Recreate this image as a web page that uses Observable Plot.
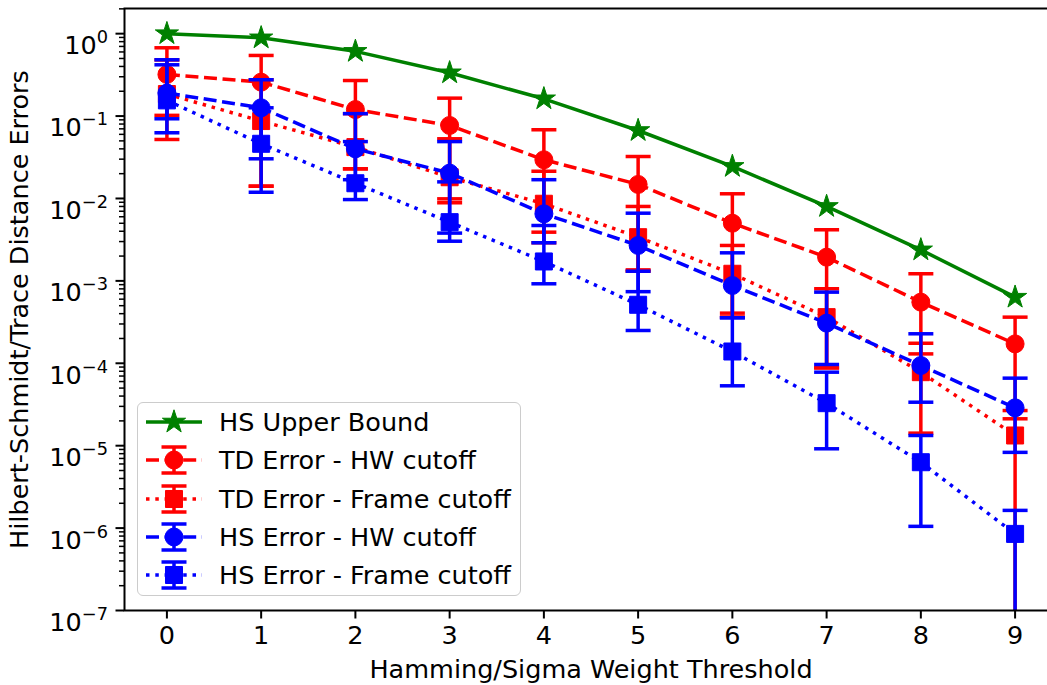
<!DOCTYPE html>
<html>
<head>
<meta charset="utf-8">
<script src="https://cdn.jsdelivr.net/npm/d3@7"></script>
<script src="https://cdn.jsdelivr.net/npm/@observablehq/plot@0.6"></script>
<style>
  body { margin: 0; background: #fff; font-family: "DejaVu Sans", sans-serif; }
  #wrap { position: relative; width: 1047px; height: 685px; overflow: hidden; }
  .legend { position: absolute; left: 137px; top: 402px; width: 384px; height: 194px;
            border: 1.5px solid #cccccc; border-radius: 6px; background: rgba(255,255,255,0.8);
            box-sizing: border-box; }
  .legend .row { position: absolute; left: 0; height: 36px; width: 380px; }
  .legend .row svg { position: absolute; left: 6px; top: 0; }
  .legend .row span { position: absolute; left: 81px; top: 0; line-height: 36px; font-size: 25.5px; color: #000; white-space: nowrap; }
</style>
</head>
<body>
<div id="wrap"></div>
<script>
// ---------------- data ----------------
const thresholds = [0, 1, 2, 3, 4, 5, 6, 7, 8, 9];

const hsUpperBound = [1.0, 0.89, 0.61, 0.335, 0.162, 0.0668, 0.0245, 0.0080, 0.00238, 0.000634];

const tdHwMean  = [0.32, 0.258, 0.12, 0.0769, 0.0295, 0.0148, 0.00501, 0.00194, 0.000552, 0.000172];
const tdHwUpper = [0.674, 0.544, 0.27, 0.165, 0.0682, 0.0323, 0.0114, 0.00417, 0.00122, 0.000363];
const tdHwLower = [0.052, 0.0141, 0.0229, 0.0099, 0.0039, 0.00136, 0.000406, 0.000088, 0.00013, 0.0000212];

const tdFrameMean  = [0.185, 0.087, 0.042, 0.0181, 0.00863, 0.00339, 0.00122, 0.000363, 0.000078, 0.0000133];
const tdFrameUpper = [0.48, 0.276, 0.107, 0.053, 0.0214, 0.008, 0.00269, 0.000802, 0.000175, 0.0000267];
const tdFrameLower = [0.102, 0.0141, 0.0229, 0.00887, 0.0029, 0.00131, 0.000365, 0.000088, 0.0000142, null];

const hsHwMean  = [0.19, 0.126, 0.0401, 0.0203, 0.00652, 0.00269, 0.000879, 0.000307, 0.000094, 0.0000288];
const hsHwUpper = [0.482, 0.276, 0.107, 0.049, 0.0169, 0.00663, 0.00219, 0.00073, 0.000228, 0.000066];
const hsHwLower = [0.0927, 0.0303, 0.0169, 0.0038, 0.0029, 0.00074, 0.000357, 0.0000967, 0.0000337, 0.0000083];

const hsFrameMean  = [0.155, 0.0461, 0.0153, 0.00516, 0.00172, 0.000513, 0.000139, 0.0000328, 0.0000063, 0.00000085];
const hsFrameUpper = [0.419, 0.126, 0.049, 0.0159, 0.0047, 0.00131, 0.000357, 0.000078, 0.0000133, 0.00000164];
const hsFrameLower = [0.0627, 0.0119, 0.0097, 0.00303, 0.000922, 0.00025, 0.0000533, 0.00000917, 0.00000105, null];

const seriesLabels = ["HS Upper Bound", "TD Error - HW cutoff", "TD Error - Frame cutoff", "HS Error - HW cutoff", "HS Error - Frame cutoff"];
const seriesColors = ["#008000", "#ff0000", "#ff0000", "#0000ff", "#0000ff"];

const yMajorTicks = [1e0, 1e-1, 1e-2, 1e-3, 1e-4, 1e-5, 1e-6, 1e-7];
const yMajorExponents = ["0", "−1", "−2", "−3", "−4", "−5", "−6", "−7"];
const xLabel = "Hamming/Sigma Weight Threshold";
const yLabel = "Hilbert-Schmidt/Trace Distance Errors";

// ---------------- styling / build ----------------
const LW = 3.5;
const styles = [
  {dash: null, symbol: "star", r: 7.3},
  {dash: "13,5.6", symbol: "circle", r: 9},
  {dash: "3.5,5.8", symbol: "square", r: 9.6},
  {dash: "13,5.6", symbol: "circle", r: 9},
  {dash: "3.5,5.8", symbol: "square", r: 9.6}
];
const means = [hsUpperBound, tdHwMean, tdFrameMean, hsHwMean, hsFrameMean];
const uppers = [null, tdHwUpper, tdFrameUpper, hsHwUpper, hsFrameUpper];
const lowers = [null, tdHwLower, tdFrameLower, hsHwLower, hsFrameLower];

const yDomain = [1e-7, 2.02];
const yMinorTicks = [];
for (let e = -7; e <= 0; e++) for (let m = 2; m <= 9; m++) { const v = m * Math.pow(10, e); if (v < yDomain[1]) yMinorTicks.push(v); }

const capSymbol = { draw(ctx) { ctx.moveTo(-12.5, 0); ctx.lineTo(12.5, 0); } };

const marks = [];
seriesLabels.forEach((label, si) => {
  const rows = thresholds.map((t, i) => ({
    x: t, y: means[si][i],
    hi: uppers[si] ? uppers[si][i] : null,
    lo: lowers[si] ? lowers[si][i] : null
  }));
  const color = seriesColors[si];
  const st = styles[si];
  if (uppers[si]) {
    marks.push(Plot.ruleX(rows, {x: "x", y1: d => d.lo ?? yDomain[0], y2: "hi", stroke: color, strokeWidth: LW, clip: true}));
    marks.push(Plot.dot(rows, {x: "x", y: "hi", symbol: capSymbol, r: 5, stroke: color, fill: "none", strokeWidth: LW, clip: true}));
    marks.push(Plot.dot(rows.filter(d => d.lo != null), {x: "x", y: "lo", symbol: capSymbol, r: 5, stroke: color, fill: "none", strokeWidth: LW, clip: true}));
  }
  marks.push(Plot.line(rows, {x: "x", y: "y", stroke: color, strokeWidth: LW, strokeDasharray: st.dash, strokeLinecap: "butt", clip: true}));
  marks.push(Plot.dot(rows, {x: "x", y: "y", symbol: st.symbol, r: st.r, fill: color, stroke: color, strokeWidth: 1, clip: true}));
});

const chart = Plot.plot({
  width: 1047,
  height: 685,
  marginLeft: 124,
  marginTop: 8,
  marginBottom: 75,
  marginRight: -10,
  style: {fontFamily: "'DejaVu Sans', sans-serif", fontSize: "25.5px", background: "white", color: "black"},
  x: {domain: [-0.45, 9.45]},
  y: {type: "log", domain: yDomain},
  marks: [
    ...marks,
    Plot.frame({stroke: "black", strokeWidth: 2}),
    Plot.axisX({ticks: thresholds, tickSize: 8.5, tickPadding: 7, strokeWidth: 2, tickFormat: d => String(d),
                label: xLabel, labelAnchor: "center", labelArrow: "none", labelOffset: 67}),
    Plot.axisY({ticks: yMinorTicks, tickSize: 5, strokeWidth: 1.5, tickFormat: () => "", label: null}),
    Plot.axisY({ticks: yMajorTicks, tickSize: 8.5, tickPadding: 8, strokeWidth: 2,
                tickFormat: d => "10^" + yMajorExponents[yMajorTicks.indexOf(d)],
                label: yLabel, labelAnchor: "center", labelArrow: "none", labelOffset: 115})
  ]
});

// superscript exponents on the y tick labels
chart.querySelectorAll("text").forEach(t => {
  const s = t.textContent;
  if (s.startsWith("10^")) {
    const exp = s.slice(3);
    t.textContent = "";
    const ns = "http://www.w3.org/2000/svg";
    const b = document.createElementNS(ns, "tspan"); b.textContent = "10";
    const e = document.createElementNS(ns, "tspan"); e.textContent = exp;
    e.setAttribute("font-size", "17.8px"); e.setAttribute("dy", "-11");
    t.appendChild(b); t.appendChild(e);
    t.setAttribute("dy", "0.48em");
  }
});

const wrap = document.getElementById("wrap");
wrap.appendChild(chart);

// ---------------- legend ----------------
const legend = document.createElement("div");
legend.className = "legend";
seriesLabels.forEach((label, si) => {
  const row = document.createElement("div");
  row.className = "row";
  row.style.top = (1 + si * 38.3) + "px";
  const color = seriesColors[si], st = styles[si];
  const cx = 30, cy = 18;
  let svg = `<svg width="60" height="36" viewBox="0 0 60 36">`;
  svg += `<line x1="2" x2="58" y1="${cy}" y2="${cy}" stroke="${color}" stroke-width="${LW}" ${st.dash ? `stroke-dasharray="${st.dash}"` : ""} />`;
  if (uppers[si]) {
    svg += `<line x1="${cx}" x2="${cx}" y1="${cy - 13}" y2="${cy + 13}" stroke="${color}" stroke-width="${LW}"/>`;
    svg += `<line x1="${cx - 12.5}" x2="${cx + 12.5}" y1="${cy - 13}" y2="${cy - 13}" stroke="${color}" stroke-width="${LW}"/>`;
    svg += `<line x1="${cx - 12.5}" x2="${cx + 12.5}" y1="${cy + 13}" y2="${cy + 13}" stroke="${color}" stroke-width="${LW}"/>`;
  }
  const symType = st.symbol === "star" ? d3.symbolStar : st.symbol === "square" ? d3.symbolSquare : d3.symbolCircle;
  const path = d3.symbol().type(symType).size(Math.PI * st.r * st.r)();
  svg += `<path d="${path}" transform="translate(${cx},${cy})" fill="${color}" stroke="${color}" stroke-width="1"/>`;
  svg += `</svg>`;
  row.innerHTML = svg + `<span>${label}</span>`;
  legend.appendChild(row);
});
wrap.appendChild(legend);
</script>
</body>
</html>
